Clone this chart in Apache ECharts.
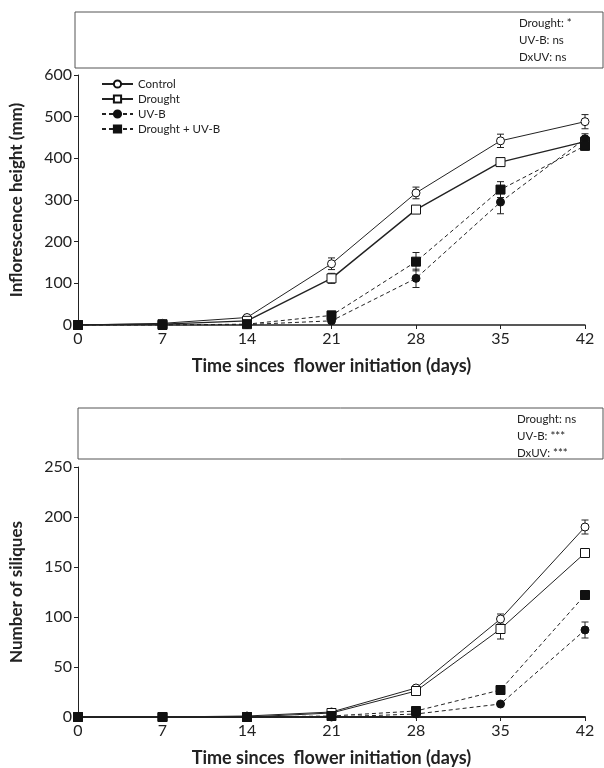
<!DOCTYPE html>
<html>
<head>
<meta charset="utf-8">
<script src="https://cdn.jsdelivr.net/npm/echarts@6/dist/echarts.min.js"></script>
<style>
  html, body { margin: 0; padding: 0; background: #fff; }
  #chart { width: 604px; height: 768px; }
</style>
</head>
<body>
<div id="chart"></div>
<script>
const days = [0, 7, 14, 21, 28, 35, 42]
const seriesNames = ['Control', 'Drought', 'UV-B', 'Drought + UV-B']

// inflorescence height (mm)
const heightControl = [0, 4, 18, 147, 317, 442, 488]
const heightDrought = [0, 2, 10, 112, 277, 391, 440]
const heightUVB = [0, 0, 1, 10, 112, 295, 447]
const heightDUV = [0, 0, 2, 23, 152, 325, 430]
const heightErrControl = [0, 2, 4, 14, 14, 16, 17]
const heightErrDrought = [0, 1, 3, 12, 9, 10, 10]
const heightErrUVB = [0, 0, 1, 6, 22, 28, 12]
const heightErrDUV = [0, 0, 1, 10, 22, 19, 10]

// number of siliques
const silControl = [0, 0, 1, 5, 29, 98, 190]
const silDrought = [0, 0, 0, 4, 26, 88, 164]
const silUVB = [0, 0, 0, 0, 3, 13, 87]
const silDUV = [0, 0, 0, 1, 6, 27, 122]
const silErrControl = [0, 0, 0, 1, 2, 5, 7]
const silErrDrought = [0, 0, 0, 1, 2, 10, 4]
const silErrUVB = [0, 0, 0, 0, 1, 1, 8]
const silErrDUV = [0, 0, 0, 0, 1, 2, 4]

const statsTop = ['Drought: *', 'UV-B: ns', 'DxUV: ns']
const statsBottom = ['Drought: ns', 'UV-B: ***', 'DxUV: ***']

const font = 'Lato, "Open Sans", sans-serif'
const ink = '#222'

const styles = [
  { symbol: 'circle', fill: '#fff', dash: 'solid', size: 8 },
  { symbol: 'rect', fill: '#fff', dash: 'solid', size: 9 },
  { symbol: 'circle', fill: '#111', dash: [4, 3], size: 8 },
  { symbol: 'rect', fill: '#111', dash: [4, 3], size: 9 }
]

function lineSeries (idx, values, gridIdx, width) {
  const st = styles[idx]
  return {
    name: seriesNames[idx],
    type: 'line',
    xAxisIndex: gridIdx,
    yAxisIndex: gridIdx,
    data: days.map((d, i) => [d, values[i]]),
    symbol: st.symbol,
    symbolSize: st.size,
    showAllSymbol: true,
    z: 3,
    lineStyle: { color: ink, width: width || 1, type: st.dash },
    itemStyle: { color: st.fill, borderColor: '#111', borderWidth: 1 }
  }
}

function errorSeries (values, errs, gridIdx) {
  return {
    type: 'custom',
    xAxisIndex: gridIdx,
    yAxisIndex: gridIdx,
    z: 2,
    silent: true,
    data: days.map((d, i) => [d, values[i] - errs[i], values[i] + errs[i]]),
    renderItem (params, api) {
      const lo = api.coord([api.value(0), api.value(1)])
      const hi = api.coord([api.value(0), api.value(2)])
      const cap = 3.5
      const style = { stroke: ink, lineWidth: 1 }
      return {
        type: 'group',
        children: [
          { type: 'line', shape: { x1: lo[0], y1: lo[1], x2: hi[0], y2: hi[1] }, style },
          { type: 'line', shape: { x1: lo[0] - cap, y1: lo[1], x2: lo[0] + cap, y2: lo[1] }, style },
          { type: 'line', shape: { x1: hi[0] - cap, y1: hi[1], x2: hi[0] + cap, y2: hi[1] }, style }
        ]
      }
    }
  }
}

function xAxis (gridIdx, lineWidth) {
  return {
    type: 'value',
    gridIndex: gridIdx,
    min: 0,
    max: 42,
    interval: 7,
    name: 'Time sinces  flower initiation (days)',
    nameLocation: 'middle',
    nameGap: 32,
    nameTextStyle: { fontFamily: font, fontSize: 18, fontWeight: 'bold', color: ink },
    axisLine: { lineStyle: { color: ink, width: lineWidth } },
    axisTick: { length: 4, lineStyle: { color: ink } },
    axisLabel: { fontFamily: font, fontSize: 16, color: ink, margin: 6 },
    splitLine: { show: false }
  }
}

function yAxis (gridIdx, max, interval, name) {
  return {
    type: 'value',
    gridIndex: gridIdx,
    min: 0,
    max: max,
    interval: interval,
    name: name,
    nameLocation: 'middle',
    nameGap: 53,
    nameTextStyle: { fontFamily: font, fontSize: 17, fontWeight: 'bold', color: ink },
    axisLine: { show: true, lineStyle: { color: ink, width: 1 } },
    axisTick: { show: true, length: 4, lineStyle: { color: ink } },
    axisLabel: { fontFamily: font, fontSize: 16, color: ink, margin: 6 },
    splitLine: { show: false }
  }
}

function statBox (x, y, w, h, lines, textX) {
  return [
    {
      type: 'rect',
      shape: { x: x, y: y, width: w, height: h },
      style: { fill: '#fff', stroke: '#555', lineWidth: 1 }
    },
    {
      type: 'text',
      x: textX,
      y: y + 3,
      style: {
        text: lines.join('\n'),
        fontFamily: font,
        fontSize: 11.5,
        lineHeight: 17,
        fill: ink
      }
    }
  ]
}

const chart = echarts.init(document.getElementById('chart'))

chart.setOption({
  animation: false,
  backgroundColor: '#fff',
  grid: [
    { left: 77, right: 19, top: 75, height: 250 },
    { left: 77, right: 19, top: 467, height: 250 }
  ],
  xAxis: [xAxis(0, 1.5), xAxis(1, 2)],
  yAxis: [
    yAxis(0, 600, 100, 'Inflorescence height (mm)'),
    yAxis(1, 250, 50, 'Number of siliques')
  ],
  legend: {
    data: seriesNames,
    orient: 'vertical',
    left: 96,
    top: 73,
    itemWidth: 31,
    itemHeight: 9,
    itemGap: 3,
    textStyle: { fontFamily: font, fontSize: 11.5, color: ink },
    selectedMode: false
  },
  graphic: [
    ...statBox(75, 12, 528, 56, statsTop, 519),
    ...statBox(78, 408, 525, 51, statsBottom, 517)
  ],
  series: [
    errorSeries(heightControl, heightErrControl, 0),
    errorSeries(heightDrought, heightErrDrought, 0),
    errorSeries(heightUVB, heightErrUVB, 0),
    errorSeries(heightDUV, heightErrDUV, 0),
    lineSeries(0, heightControl, 0),
    lineSeries(1, heightDrought, 0, 1.4),
    lineSeries(2, heightUVB, 0),
    lineSeries(3, heightDUV, 0),
    errorSeries(silControl, silErrControl, 1),
    errorSeries(silDrought, silErrDrought, 1),
    errorSeries(silUVB, silErrUVB, 1),
    errorSeries(silDUV, silErrDUV, 1),
    lineSeries(0, silControl, 1),
    lineSeries(1, silDrought, 1),
    lineSeries(2, silUVB, 1),
    lineSeries(3, silDUV, 1)
  ]
})
</script>
</body>
</html>
